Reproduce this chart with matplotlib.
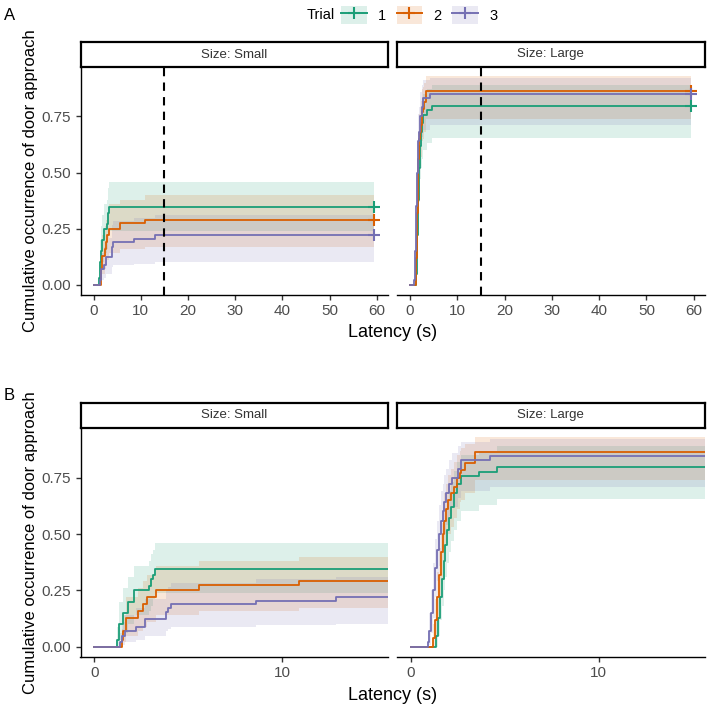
import matplotlib
matplotlib.use('Agg')
import matplotlib.pyplot as plt
from matplotlib.patches import Patch
from matplotlib.lines import Line2D

plt.rcParams['font.family'] = ['Liberation Sans', 'DejaVu Sans']

# Trial colours (Dark2)
trials = ['1', '2', '3']
colors = ['#1B9E77', '#D95F02', '#7570B3']
t_end = 59.5

# ---- Size: Small, step times / estimate / lower / upper ----
small_t = [
    [0, 1.2, 1.3, 1.5, 1.8, 2.1, 2.9, 3.0, 3.1, 3.25],
    [0, 1.45, 1.55, 1.7, 2.3, 2.6, 2.8, 3.3, 5.6, 10.9],
    [0, 1.35, 1.45, 1.65, 2.2, 2.7, 3.8, 3.95, 4.1, 8.6, 12.9],
]
small_v = [
    [0, 0.03, 0.10, 0.15, 0.20, 0.25, 0.27, 0.30, 0.32, 0.345],
    [0, 0.03, 0.07, 0.13, 0.16, 0.19, 0.22, 0.25, 0.275, 0.29],
    [0, 0.02, 0.05, 0.07, 0.09, 0.125, 0.155, 0.17, 0.19, 0.205, 0.22],
]
small_lo = [
    [0, 0.0, 0.03, 0.06, 0.10, 0.14, 0.16, 0.18, 0.21, 0.24],
    [0, 0.0, 0.02, 0.05, 0.07, 0.09, 0.11, 0.14, 0.16, 0.17],
    [0, 0.0, 0.01, 0.02, 0.03, 0.05, 0.07, 0.08, 0.09, 0.095, 0.10],
]
small_hi = [
    [0, 0.09, 0.20, 0.26, 0.31, 0.36, 0.38, 0.41, 0.43, 0.46],
    [0, 0.08, 0.14, 0.22, 0.26, 0.29, 0.32, 0.36, 0.38, 0.40],
    [0, 0.06, 0.11, 0.14, 0.17, 0.21, 0.25, 0.265, 0.285, 0.30, 0.31],
]

# ---- Size: Large ----
large_t = [
    [0, 1.35, 1.45, 1.55, 1.65, 1.75, 1.85, 1.95, 2.05, 2.15, 2.3, 2.45, 2.7, 3.65, 4.6],
    [0, 1.2, 1.3, 1.4, 1.5, 1.6, 1.7, 1.8, 1.9, 2.0, 2.15, 2.3, 2.45, 2.6, 2.7, 2.9, 3.4],
    [0, 0.9, 1.0, 1.1, 1.2, 1.3, 1.4, 1.5, 1.6, 1.7, 1.8, 1.9, 2.05, 2.2, 2.5, 2.7, 4.2],
]
large_v = [
    [0, 0.05, 0.13, 0.22, 0.30, 0.38, 0.45, 0.52, 0.57, 0.62, 0.68, 0.72, 0.757, 0.777, 0.795],
    [0, 0.04, 0.12, 0.22, 0.32, 0.42, 0.50, 0.56, 0.61, 0.65, 0.68, 0.71, 0.75, 0.77, 0.785, 0.815, 0.865],
    [0, 0.02, 0.07, 0.15, 0.25, 0.35, 0.43, 0.50, 0.56, 0.60, 0.64, 0.68, 0.72, 0.75, 0.79, 0.83, 0.848],
]
large_lo = [
    [0, 0, 0.05, 0.12, 0.18, 0.25, 0.31, 0.37, 0.42, 0.47, 0.52, 0.56, 0.60, 0.63, 0.655],
    [0, 0, 0.04, 0.11, 0.19, 0.28, 0.35, 0.41, 0.46, 0.50, 0.53, 0.57, 0.61, 0.64, 0.65, 0.68, 0.74],
    [0, 0, 0.01, 0.06, 0.13, 0.22, 0.29, 0.36, 0.42, 0.46, 0.50, 0.54, 0.58, 0.62, 0.66, 0.69, 0.71],
]
large_hi = [
    [0, 0.12, 0.23, 0.33, 0.42, 0.50, 0.57, 0.64, 0.69, 0.73, 0.78, 0.82, 0.85, 0.87, 0.89],
    [0, 0.10, 0.21, 0.33, 0.44, 0.55, 0.62, 0.68, 0.72, 0.76, 0.79, 0.82, 0.85, 0.87, 0.88, 0.90, 0.93],
    [0, 0.06, 0.15, 0.25, 0.37, 0.48, 0.56, 0.63, 0.69, 0.72, 0.76, 0.79, 0.83, 0.86, 0.89, 0.91, 0.92],
]

panels = [
    ('Size: Small', small_t, small_v, small_lo, small_hi),
    ('Size: Large', large_t, large_v, large_lo, large_hi),
]

W, H = 708, 709
fig = plt.figure(figsize=(W / 100, H / 100), dpi=100)


def rect(x0, y0, x1, y1):
    return [x0 / W, 1 - y1 / H, (x1 - x0) / W, (y1 - y0) / H]


cols = [(80.5, 388), (396.7, 705)]
rows = [
    dict(strip=(42, 67), plot=(67, 295), xlim=(-2.8, 62.4), xticks=range(0, 61, 10),
         vline=True, marks=True, xlab_y=333, lab='A', lab_y=15),
    dict(strip=(403, 428), plot=(428, 657), xlim=(-0.74, 15.65), xticks=[0, 10],
         vline=False, marks=False, xlab_y=696, lab='B', lab_y=395),
]

for row in rows:
    for ci, (x0, x1) in enumerate(cols):
        name, T, V, LO, HI = panels[ci]
        ax = fig.add_axes(rect(x0, row['plot'][0], x1, row['plot'][1]))
        for i in range(3):
            xs = T[i] + [t_end]
            ax.fill_between(xs, LO[i] + [LO[i][-1]], HI[i] + [HI[i][-1]], step='post',
                            color=colors[i], alpha=0.15, lw=0)
        for i in range(3):
            xs = T[i] + [t_end]
            ax.step(xs, V[i] + [V[i][-1]], where='post', color=colors[i], lw=1.3)
            if row['marks']:
                ax.plot(t_end, V[i][-1], marker='+', ms=9, mew=1.5, color=colors[i])
        if row['vline']:
            ax.axvline(15, color='black', ls=(0, (4, 3)), lw=1.5)
        ax.set_xlim(*row['xlim'])
        ax.set_ylim(-0.045, 0.97)
        ax.set_xticks(list(row['xticks']))
        ax.set_yticks([0, 0.25, 0.5, 0.75])
        ax.set_yticklabels(['0.00', '0.25', '0.50', '0.75'])
        ax.spines['top'].set_visible(False)
        ax.spines['right'].set_visible(False)
        ax.spines['bottom'].set_linewidth(1.0)
        ax.spines['left'].set_linewidth(1.0)
        ax.tick_params(length=3.8, width=1.0, color='#333333', labelcolor='#4D4D4D',
                       labelsize=11, pad=3)
        if ci == 1:
            ax.spines['left'].set_visible(False)
            ax.tick_params(axis='y', left=False, labelleft=False)

        sax = fig.add_axes(rect(x0, row['strip'][0], x1, row['strip'][1]))
        sax.set_xticks([])
        sax.set_yticks([])
        for s in sax.spines.values():
            s.set_linewidth(1.6)
            s.set_color('black')
        sax.text(0.5, 0.5, name, ha='center', va='center', fontsize=9.5, color='#333333',
                 transform=sax.transAxes)

    yc = (row['plot'][0] + row['plot'][1]) / 2
    fig.text(31 / W, 1 - yc / H, 'Cumulative occurrence of door approach', rotation=90,
             ha='center', va='center', fontsize=12)
    fig.text((cols[0][0] + cols[1][1]) / 2 / W, 1 - row['xlab_y'] / H, 'Latency (s)',
             ha='center', va='center', fontsize=13)
    fig.text(4 / W, 1 - row['lab_y'] / H, row['lab'], ha='left', va='center', fontsize=12)

# legend
fig.text(307 / W, 1 - 15 / H, 'Trial', ha='left', va='center', fontsize=10.5)
handles = [(Patch(facecolor=c, alpha=0.15, lw=0),
            Line2D([], [], color=c, lw=1.4, marker='+', ms=9, mew=1.5)) for c in colors]
fig.legend(handles, trials, loc='center left', bbox_to_anchor=(341 / W, 1 - 15 / H),
           ncol=3, frameon=False, fontsize=10.5, handlelength=1.75, handleheight=1.6,
           handletextpad=0.8, columnspacing=0.7, borderpad=0, borderaxespad=0)

fig.savefig('out.png', dpi=100)
